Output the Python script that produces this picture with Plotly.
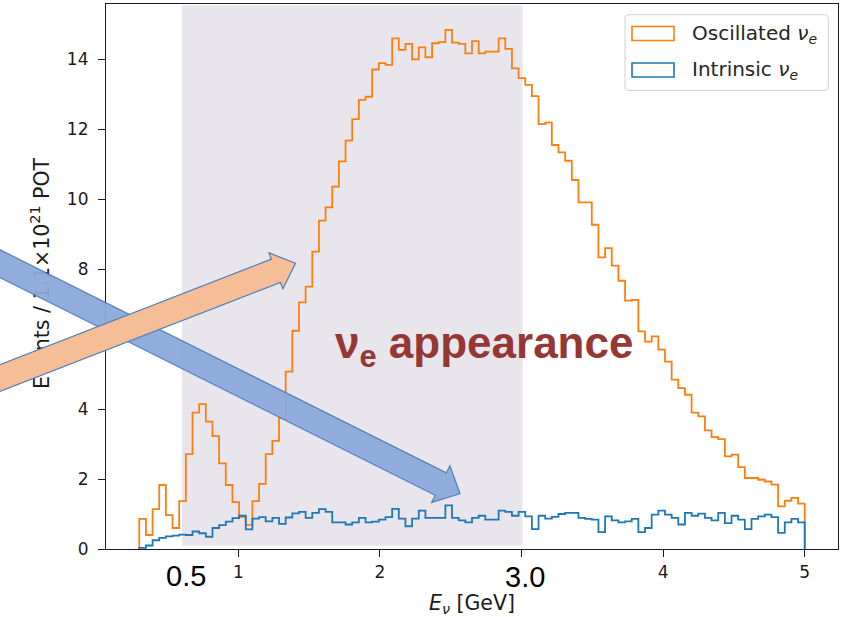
import numpy as np
import plotly.graph_objects as go

# ---------------- data ----------------
BIN_LO = 0.3
BIN_HI = 5.0
N_BINS = 100

oscillated = [
    0.86, 0.40, 1.14, 1.83, 0.97, 0.60, 1.37, 2.71, 3.90, 4.14,
    3.64, 3.23, 2.45, 1.83, 1.34, 0.92, 0.69, 1.37, 1.86, 2.71,
    3.09, 3.74, 5.07, 6.24, 7.05, 7.50, 8.50, 9.39, 9.77, 10.36,
    11.08, 11.68, 12.29, 12.84, 12.93, 13.71, 13.89, 13.84, 14.60, 14.27,
    14.44, 14.00, 14.34, 14.06, 14.46, 14.49, 14.84, 14.48, 14.44, 14.17,
    14.52, 14.17, 14.22, 14.22, 14.60, 14.30, 13.74, 13.46, 13.27, 12.95,
    12.15, 12.19, 11.55, 11.34, 11.10, 10.55, 9.91, 9.91, 9.27, 8.34,
    8.60, 8.10, 7.67, 7.10, 7.12, 6.22, 5.93, 6.08, 5.70, 5.36,
    4.84, 4.60, 4.41, 3.90, 3.79, 3.39, 3.20, 3.14, 2.65, 2.70,
    2.34, 2.03, 2.03, 1.98, 1.93, 1.84, 1.22, 1.38, 1.46, 1.30,
]

intrinsic = [
    0.03, 0.10, 0.25, 0.32, 0.36, 0.38, 0.41, 0.40, 0.50, 0.45,
    0.35, 0.60, 0.68, 0.78, 0.88, 0.95, 0.56, 0.87, 0.91, 0.79,
    0.89, 0.72, 0.90, 1.02, 1.06, 0.89, 1.03, 1.14, 1.06, 0.76,
    0.76, 0.70, 0.76, 0.89, 0.76, 0.78, 0.84, 0.91, 1.15, 0.87,
    0.65, 0.87, 1.10, 0.89, 0.89, 0.89, 1.25, 0.89, 0.82, 0.76,
    0.89, 0.95, 0.84, 0.84, 1.10, 1.06, 0.95, 1.06, 0.93, 0.57,
    0.95, 0.87, 0.92, 1.00, 1.03, 1.03, 0.89, 0.86, 0.84, 0.48,
    0.93, 0.82, 0.76, 0.79, 0.86, 0.48, 0.60, 0.98, 1.10, 0.98,
    0.89, 0.70, 1.03, 0.95, 1.01, 0.89, 0.82, 1.03, 0.74, 0.95,
    0.84, 0.57, 0.86, 0.93, 0.98, 0.91, 0.46, 0.76, 0.86, 0.76,
]

x_ticks = [1, 2, 3, 4, 5]
x_ticktext = ["1", "2", "", "4", "5"]   # the "3" is covered by the slide's "3.0" box
y_ticks = [0, 2, 4, 6, 8, 10, 12, 14]

series_names = ["Oscillated ν<sub>e</sub>", "Intrinsic ν<sub>e</sub>"]
series_colors = ["#ff7f0e", "#1f77b4"]

x_title = "<i>E</i><sub><i>ν</i></sub> [GeV]"
y_title = "Events / 1.1×10<sup>21</sup> POT"
band_labels = ["0.5", "3.0"]
overlay_text = "ν<sub>e</sub> appearance"

# ---------------- geometry helpers ----------------
W, H = 841, 617
L, R, T, B = 106, 838, 4.3, 549.3


def px(x):
    return (x - L) / (R - L)


def py(y):
    return (B - y) / (B - T)


edges = np.linspace(BIN_LO, BIN_HI, N_BINS + 1)


def step_xy(vals):
    xs = [edges[0]] + list(edges[:-1]) + [edges[-1], edges[-1]]
    ys = [0.0] + list(vals) + [vals[-1], 0.0]
    return xs, ys


fig = go.Figure()
for vals, name, col in zip([oscillated, intrinsic], series_names, series_colors):
    xs, ys = step_xy(vals)
    fig.add_trace(go.Scatter(x=xs, y=ys, mode="lines", name=name,
                             line=dict(color=col, width=1.8, shape="hv"),
                             showlegend=False, hoverinfo="skip"))

xmin = BIN_LO - 0.05 * (BIN_HI - BIN_LO)
xmax = BIN_HI + 0.05 * (BIN_HI - BIN_LO)
ymax = max(oscillated) * 1.05

# invisible helper trace on an overlaying axis that carries the y title as a
# rotated tick label (so the overlay arrows can sit on top of it, as in the slide)
fig.add_trace(go.Scatter(x=[xmin], y=[0], yaxis="y2", mode="markers",
                         marker=dict(opacity=0), showlegend=False,
                         hoverinfo="skip"))

shapes = []
# shaded energy window (overlay)
shapes.append(dict(type="rect", xref="paper", yref="paper",
                   x0=px(182), x1=px(522.5), y0=py(546), y1=py(5.5),
                   fillcolor="#E8E6EC", line=dict(width=0), layer="below"))


def arrow_path(tail_x, tip, d, w, hw, hl):
    d = np.array(d, float)
    d = d / np.linalg.norm(d)
    n = np.array([-d[1], d[0]])
    tip = np.array(tip, float)
    base = tip - hl * d
    t = (base[0] - tail_x) / d[0]
    tail = base - t * d
    pts = [tail + w * n, base + w * n, base + hw * n, tip,
           base - hw * n, base - w * n, tail - w * n]
    s = "M " + " L ".join(f"{px(p[0]):.5f},{py(p[1]):.5f}" for p in pts) + " Z"
    return s


# blue arrow
shapes.append(dict(type="path", xref="paper", yref="paper",
                   path=arrow_path(-20, (460, 494), (0.894, 0.447), 12.5, 20.5, 21.5),
                   fillcolor="#8CA9DA", line=dict(color="#4A7EBB", width=1.2),
                   opacity=0.95, layer="above"))
# orange arrow
shapes.append(dict(type="path", xref="paper", yref="paper",
                   path=arrow_path(-20, (295.5, 263.5), (0.932, -0.362), 12.5, 19.3, 21),
                   fillcolor="#F5BE96", line=dict(color="#4A7EBB", width=1.2),
                   layer="above"))

# legend box (rounded)
lx0, lx1, ly0, ly1, rr = 625, 828.3, 15, 90.7, 4


def rounded_rect(x0, y0, x1, y1, r):
    p = [
        (x0 + r, y0), (x1 - r, y0), ("Q", x1, y0, x1, y0 + r), (x1, y1 - r),
        ("Q", x1, y1, x1 - r, y1), (x0 + r, y1), ("Q", x0, y1, x0, y1 - r),
        (x0, y0 + r), ("Q", x0, y0, x0 + r, y0)
    ]
    s = f"M {px(p[0][0]):.5f},{py(p[0][1]):.5f}"
    for q in p[1:]:
        if q[0] == "Q":
            s += f" Q {px(q[1]):.5f},{py(q[2]):.5f} {px(q[3]):.5f},{py(q[4]):.5f}"
        else:
            s += f" L {px(q[0]):.5f},{py(q[1]):.5f}"
    return s + " Z"


shapes.append(dict(type="path", xref="paper", yref="paper",
                   path=rounded_rect(lx0, ly0, lx1, ly1, rr),
                   fillcolor="rgba(255,255,255,0.85)",
                   line=dict(color="#d0d0d0", width=1), layer="above"))
row_y = [33.8, 70.3]
for col, yc in zip(series_colors, row_y):
    shapes.append(dict(type="rect", xref="paper", yref="paper",
                       x0=px(632), x1=px(674), y0=py(yc + 7), y1=py(yc - 7),
                       fillcolor="rgba(0,0,0,0)", line=dict(color=col, width=1.6),
                       layer="above"))

annotations = []
for name, yc in zip(series_names, row_y):
    label = name.replace("ν<sub>e</sub>", "<i>ν</i><sub><i>e</i></sub>")
    annotations.append(dict(xref="paper", yref="paper", x=px(690), y=py(yc),
                            xanchor="left", yanchor="middle", showarrow=False,
                            text=label,
                            font=dict(family="DejaVu Sans", size=20, color="#262626")))

annotations.append(dict(xref="paper", yref="paper", x=px(484), y=py(346),
                        xanchor="center", yanchor="middle", showarrow=False,
                        text="<b>" + overlay_text + "</b>",
                        font=dict(family="Liberation Sans", size=44, color="#953735")))
annotations.append(dict(xref="paper", yref="paper", x=px(186), y=py(576),
                        xanchor="center", yanchor="middle", showarrow=False,
                        text=band_labels[0],
                        font=dict(family="Liberation Sans", size=29, color="black")))
annotations.append(dict(xref="paper", yref="paper", x=px(524.5), y=py(577),
                        xanchor="center", yanchor="middle", showarrow=False,
                        text=band_labels[1],
                        font=dict(family="Liberation Sans", size=29, color="black")))

axis_common = dict(showgrid=False, zeroline=False, showline=True, mirror=True,
                   linecolor="#1a1a1a", linewidth=1.2, ticks="outside", ticklen=7,
                   tickwidth=1.2, tickcolor="#1a1a1a",
                   tickfont=dict(family="DejaVu Sans", size=17, color="#1a1a1a"))

fig.update_layout(
    width=W, height=H,
    margin=dict(l=L, r=W - R, t=T, b=H - B),
    paper_bgcolor="white", plot_bgcolor="rgba(0,0,0,0)",
    xaxis=dict(range=[xmin, xmax], tickvals=x_ticks, ticktext=x_ticktext,
               title=dict(text=x_title, standoff=15,
                          font=dict(family="DejaVu Sans", size=20.5, color="#1a1a1a")),
               **axis_common),
    yaxis=dict(range=[0, ymax], tickvals=y_ticks, ticklabelstandoff=6,
               **axis_common),
    yaxis2=dict(range=[0, ymax], overlaying="y", side="left", anchor="x",
                showgrid=False, zeroline=False, showline=False, ticks="",
                tickvals=[ymax / 2], ticktext=[y_title], tickangle=-90,
                ticklabelstandoff=52,
                tickfont=dict(family="DejaVu Sans", size=20.5, color="#1a1a1a")),
    shapes=shapes,
    annotations=annotations,
    showlegend=False,
)

fig.write_html("out.html")
